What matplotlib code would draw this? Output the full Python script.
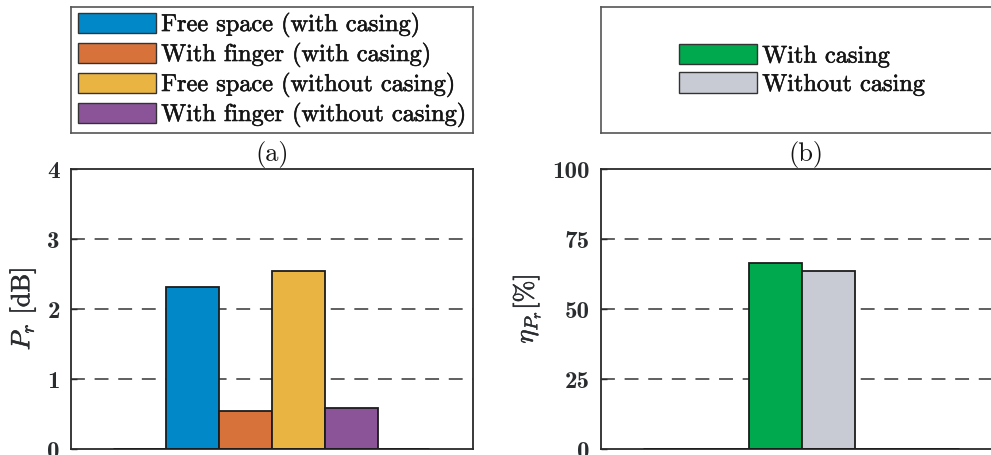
import matplotlib
matplotlib.use("Agg")
import matplotlib.pyplot as plt
import matplotlib.patheffects as pe
from matplotlib.patches import Patch

plt.rcParams["mathtext.fontset"] = "cm"
plt.rcParams["font.family"] = "cmr10"
plt.rcParams["axes.unicode_minus"] = False
plt.rcParams["axes.formatter.use_mathtext"] = True
plt.rcParams["lines.scale_dashes"] = False

# Panel (a): received power
labels_a = ["Free space (with casing)", "With finger (with casing)",
            "Free space (without casing)", "With finger (without casing)"]
values_a = [2.31, 0.54, 2.55, 0.59]
colors_a = ["#0088c8", "#d6723a", "#eab443", "#8b5499"]
yticks_a = [0, 1, 2, 3, 4]

# Panel (b): efficiency
labels_b = ["With casing", "Without casing"]
values_b = [66.3, 63.6]
colors_b = ["#00a84e", "#c8cbd3"]
yticks_b = [0, 25, 50, 75, 100]

W, H = 991, 455
fig = plt.figure(figsize=(W / 100, H / 100), dpi=100)

def fx(px):
    return px / W

def fy(py):
    return 1 - py / H

spine_c = "#2a2a2a"
text_c = "#2a2d30"
bar_w = 0.132
heavy = [pe.withStroke(linewidth=0.4, foreground="#151515")]
heavy_grey = [pe.withStroke(linewidth=0.4, foreground=text_c)]


def setup_axes(ax, yticks, ylabel, label_x):
    ax.set_xlim(0.5, 1.5)
    ax.set_ylim(yticks[0], yticks[-1])
    ax.set_xticks([])
    ax.set_yticks(yticks)
    ax.set_yticklabels([str(t) for t in yticks], family="cmb10",
                       fontsize=18, color=text_c)
    ax.tick_params(axis="y", direction="in", length=4, width=1,
                   color=spine_c, pad=8)
    for s in ax.spines.values():
        s.set_color(spine_c)
        s.set_linewidth(1.3)
    for t in yticks[1:-1]:
        ax.axhline(t, color="#444444", lw=1.2, linestyle=(0, (10, 7)),
                   zorder=0.5)
    lab = ax.set_ylabel(ylabel, fontsize=19, color=text_c)
    lab.set_path_effects(heavy_grey)
    ax.yaxis.set_label_coords(label_x, 0.5)


def draw_bars(ax, values, colors):
    n = len(values)
    for i, (v, c) in enumerate(zip(values, colors)):
        x = 1 + (i - (n - 1) / 2) * bar_w
        ax.bar(x, v, width=bar_w, color=c, edgecolor="#1c1c1c",
               linewidth=1.3, zorder=2)
    ax.hlines(0, 0.604, 1.391, color="#1c1c1c", lw=2, zorder=3)


def legend_box(x0, x1, labels, colors):
    lax = fig.add_axes([fx(x0), fy(133), fx(x1 - x0), fy(7) - fy(133)])
    lax.set_xticks([])
    lax.set_yticks([])
    for s in lax.spines.values():
        s.set_color("#555555")
        s.set_linewidth(1.2)
    handles = [Patch(facecolor=c, edgecolor="#333333", linewidth=1.0)
               for c in colors]
    leg = lax.legend(handles, labels, loc="center", frameon=False,
                     fontsize=17.5, handlelength=3.2, handleheight=0.9,
                     labelspacing=0.2, handletextpad=0.22, borderpad=0,
                     borderaxespad=0, labelcolor="#151515")
    for t in leg.get_texts():
        t.set_path_effects(heavy)
    return lax


# Left panel
ax1 = fig.add_axes([fx(71), fy(449), fx(473 - 71), fy(169) - fy(449)])
setup_axes(ax1, yticks_a, r"$P_r$ [dB]", -0.082)
draw_bars(ax1, values_a, colors_a)

# Right panel
ax2 = fig.add_axes([fx(601), fy(449), fx(473 - 71), fy(169) - fy(449)])
setup_axes(ax2, yticks_b, r"$\eta_{P_r}$[%]", -0.146)
draw_bars(ax2, values_b, colors_b)

legend_box(71, 473, labels_a, colors_a)
legend_box(601, 1003, labels_b, colors_b)

for x, s in [(272, "(a)"), (806, "(b)")]:
    fig.text(fx(x), fy(154), s, fontsize=19, ha="center", va="center",
             color="#151515")

fig.savefig("out.png", dpi=100)
